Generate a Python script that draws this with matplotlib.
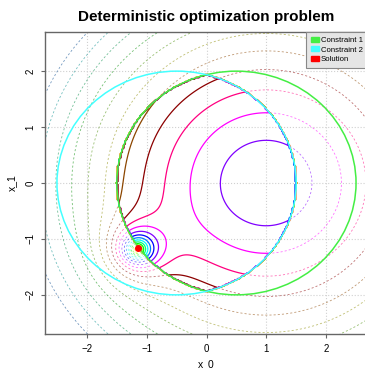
import matplotlib.pyplot as plt
import numpy as np
from matplotlib.patches import Circle, Patch

# objective: radial bowl around bowl_center plus a sharp well near the lower left
bowl_center = (1.0, 0.0)
bowl_scale = 1.35
bowl_power = 1.5
bowl_floor = 0.1
well_center = (-1.16, -1.19)
well_depth = 14.0
well_width = 0.25

# feasible set = intersection of the two disks
constraint_centers = [(0.5, 0.0), (-0.5, 0.0)]
constraint_radii = [2.0, 2.0]
constraint_colors = ["#44ee44", "#44ffff"]
constraint_labels = ["Constraint 1", "Constraint 2"]

solution = (-1.14, -1.17)
solution_color = "#ff0000"

# contour levels and their palette (bright hue wheel, then a darker one)
levels = [-8, -7, -6, -5, -4, -3, -2, -1, 0, 1, 2, 3, 4, 5, 6, 7, 8, 9, 10, 11]
level_colors = [
    "#ff0000", "#ff8000", "#ffff00", "#80ff00", "#00ff00", "#00ff80",
    "#00ffff", "#0080ff", "#0000ff", "#8000ff", "#ff00ff", "#ff0080",
    "#8c0000", "#8c4600", "#8c8c00", "#468c00", "#008c00", "#008c46",
    "#008c8c", "#00468c",
]

x_ticks = [-2, -1, 0, 1, 2]
y_ticks = [-2, -1, 0, 1, 2]
lim = (-2.7, 2.7)


def objective(x0, x1):
    r = np.hypot(x0 - bowl_center[0], x1 - bowl_center[1])
    d = np.hypot(x0 - well_center[0], x1 - well_center[1])
    return bowl_floor + bowl_scale * r**bowl_power - well_depth * np.exp(-d / well_width)


def excess(x0, x1):
    """Distance outside the feasible set (negative inside)."""
    return np.max([np.hypot(x0 - cx, x1 - cy) - rad
                   for (cx, cy), rad in zip(constraint_centers, constraint_radii)], axis=0)


plt.rcParams["font.family"] = ["Liberation Sans", "DejaVu Sans"]

fig = plt.figure(figsize=(3.65, 3.69), dpi=100)
ax = fig.add_axes([45 / 365, 35 / 369, 323 / 365, 302 / 369])

grid = np.linspace(lim[0], lim[1], 801)
X0, X1 = np.meshgrid(grid, grid)
Z = objective(X0, X1)
inside = excess(X0, X1) <= 0

# solid where both constraints hold, dashed elsewhere
ax.contour(X0, X1, np.ma.masked_where(~inside, Z), levels=levels,
           colors=level_colors, linewidths=0.9, zorder=2)
cs_out = ax.contour(X0, X1, np.ma.masked_where(inside, Z), levels=levels,
                    colors=level_colors, linewidths=0.6, alpha=0.55, zorder=2)
cs_out.set_linestyle((0, (2.5, 2.5)))

# levels piling up against the feasible boundary (infeasible side set to the floor)
coarse = np.linspace(lim[0], lim[1], 217)
C0, C1 = np.meshgrid(coarse, coarse)
step = coarse[1] - coarse[0]
ex = excess(C0, C1)
band = np.where(ex > 0, levels[0] - 1, objective(C0, C1))
band = np.ma.masked_where(np.abs(ex) > 1.5 * step, band)
ax.contour(C0, C1, band, levels=levels, colors=level_colors, linewidths=0.5,
           alpha=0.8, zorder=2)

for (cx, cy), rad, col in zip(constraint_centers, constraint_radii, constraint_colors):
    ax.add_patch(Circle((cx, cy), rad, fill=False, edgecolor=col, linewidth=1.1, zorder=3))

ax.plot([solution[0]], [solution[1]], "o", color=solution_color, markersize=4, zorder=4)

ax.set_xlim(lim)
ax.set_ylim(lim)
ax.set_xticks(x_ticks)
ax.set_yticks(y_ticks)
ax.grid(True, color="#d0d0d0", linestyle=":", linewidth=0.8)
ax.set_axisbelow(True)
ax.tick_params(direction="out", length=3, color="#666666", labelsize=7, pad=4)
ax.tick_params(axis="y", labelrotation=90)
for lab in ax.get_yticklabels():
    lab.set_va("center")
for spine in ax.spines.values():
    spine.set_color("#666666")
    spine.set_linewidth(1.0)

ax.set_xlabel("x_0", fontsize=7.5, labelpad=4)
ax.set_ylabel("x_1", fontsize=7.5, labelpad=6)
ax.set_title("Deterministic optimization problem", fontsize=11, fontweight="bold", pad=8)

handles = [Patch(color=c, label=l) for c, l in zip(constraint_colors, constraint_labels)]
handles.append(Patch(color=solution_color, label="Solution"))
leg = ax.legend(handles=handles, loc="upper right", fontsize=5.6, borderaxespad=0,
                fancybox=False, framealpha=1, facecolor="#e5e5e5", edgecolor="#888888",
                handlelength=1.0, handleheight=0.55, handletextpad=0.3,
                labelspacing=0.3, borderpad=0.65)
leg.get_frame().set_linewidth(0.8)
leg.set_zorder(5)

fig.savefig("out.png", dpi=100)
